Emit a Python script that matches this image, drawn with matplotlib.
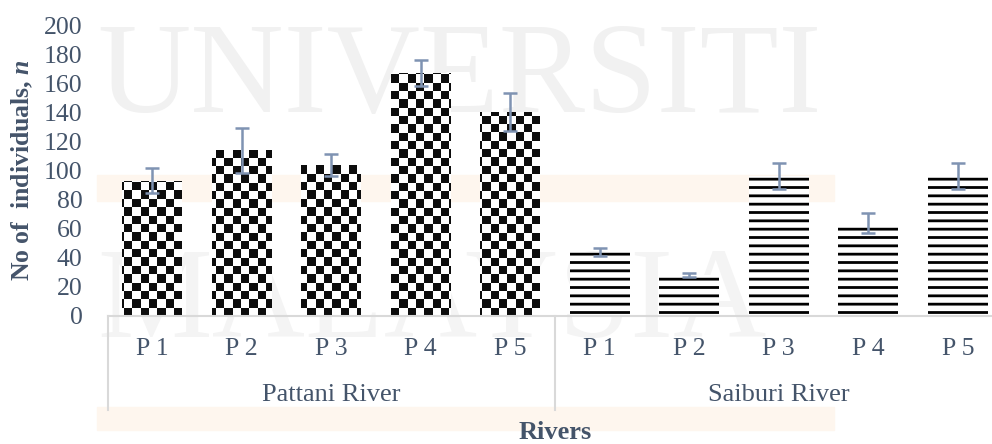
import numpy as np
import matplotlib.pyplot as plt
from matplotlib.colors import ListedColormap
from matplotlib.patches import Rectangle

# Site counts per river (mean and error)
sites = ['P 1', 'P 2', 'P 3', 'P 4', 'P 5']
rivers = ['Pattani River', 'Saiburi River']
pattani_mean = [93, 114, 104, 167, 140]
pattani_err = [8.5, 15.5, 7.5, 9, 13]
saiburi_mean = [44, 28, 96, 64, 96]
saiburi_err = [2.5, 1.4, 9, 7, 9]

text_col = '#44546A'
err_col = '#7F93B2'
grid_col = '#D9D9D9'

plt.rcParams['font.family'] = ['Liberation Serif', 'DejaVu Serif']
plt.rcParams['mathtext.fontset'] = 'custom'
plt.rcParams['mathtext.it'] = 'Liberation Serif:italic:bold'
plt.rcParams['mathtext.rm'] = 'Liberation Serif:bold'
plt.rcParams['hatch.linewidth'] = 2.0
plt.rcParams['hatch.color'] = 'black'

W, H, DPI = 9.92, 4.44, 100
fig = plt.figure(figsize=(W, H), dpi=DPI)
fig.patch.set_facecolor('white')

# faint background watermark and bands, kept behind the axes
for y0, y1 in [(175, 201), (407, 430)]:
    fig.patches.append(Rectangle((97 / 992, 1 - y1 / 444), (834 - 97) / 992, (y1 - y0) / 444,
                                 transform=fig.transFigure, color='#FEF6EE', zorder=-2))
fig.text(97 / 992, 1 - 112 / 444, 'UNIVERSITI', fontsize=93, color='#F1F1F1',
         va='baseline', ha='left', zorder=-1)
fig.text(97 / 992, 1 - 337 / 444, 'MALAYSIA', fontsize=93, color='#F4F4F4',
         va='baseline', ha='left', zorder=-1)

ax_l, ax_b = 107.5 / 992, 128 / 444
ax_w, ax_h = 895 / 992, 291 / 444
ax = fig.add_axes([ax_l, ax_b, ax_w, ax_h])
ax.patch.set_alpha(0)

n = len(sites)
x_pat = np.arange(n)
x_sai = np.arange(n) + n
width = 0.67

# checkerboard texture for the Pattani bars
sq = DPI / 12.0
dx = sq / (ax_w * W * DPI / 10.0)
dy = sq / (ax_h * H * DPI / 200.0)
ncols = int(np.ceil(10 / dx)) + 1
nrows = int(np.ceil(200 / dy)) + 1
rr, cc = np.indices((nrows, ncols))
checker = (rr + cc) % 2
cmap = ListedColormap(['#0D0D0D', 'white'])

bars_p = ax.bar(x_pat, pattani_mean, width, color='white', linewidth=0, zorder=2)
for b in bars_p:
    im = ax.imshow(checker, cmap=cmap, origin='lower', interpolation='nearest',
                   extent=(-0.5, -0.5 + ncols * dx, 0, nrows * dy), aspect='auto', zorder=2)
    im.set_clip_path(b)

ax.bar(x_sai, saiburi_mean, width, color='white', edgecolor='black', linewidth=0,
       hatch='--', zorder=2)

ax.errorbar(x_pat, pattani_mean, yerr=pattani_err, fmt='none', ecolor=err_col,
            elinewidth=1.8, capsize=4.7, capthick=1.8, zorder=3)
ax.errorbar(x_sai, saiburi_mean, yerr=saiburi_err, fmt='none', ecolor=err_col,
            elinewidth=1.8, capsize=4.7, capthick=1.8, zorder=3)

ax.set_xlim(-0.5, 2 * n - 0.5)
ax.set_ylim(0, 200)
ax.set_yticks(np.arange(0, 201, 20))
ax.set_xticks(np.concatenate([x_pat, x_sai]))
ax.set_xticklabels(sites + sites)
ax.tick_params(axis='y', length=0, pad=18, labelsize=18.5, labelcolor=text_col)
ax.tick_params(axis='x', length=0, pad=16, labelsize=18.5, labelcolor=text_col)

for s in ['top', 'right', 'left']:
    ax.spines[s].set_visible(False)
ax.spines['bottom'].set_color(grid_col)
ax.spines['bottom'].set_linewidth(1.5)

# group dividers and group labels under the axis
div_bottom = -94 / 291
for xv in [-0.5, n - 0.5, 2 * n - 0.5]:
    ax.plot([xv, xv], [0, div_bottom], color=grid_col, lw=1.5,
            transform=ax.get_xaxis_transform(), clip_on=False)
for i, name in enumerate(rivers):
    ax.text(i * n + (n - 1) / 2, -79 / 291, name, ha='center', va='center',
            fontsize=19, color=text_col, transform=ax.get_xaxis_transform())

ax.set_ylabel(r'No of  individuals, $n$', fontsize=18.5, fontweight='bold',
              color=text_col, va='center')
ax.yaxis.set_label_coords(22 / 992, 1 - 170.5 / 444, transform=fig.transFigure)

fig.text(555 / 992, 1 - 432 / 444, 'Rivers', fontsize=19, fontweight='bold',
         color=text_col, ha='center', va='center')

fig.savefig('out.png', dpi=DPI)
